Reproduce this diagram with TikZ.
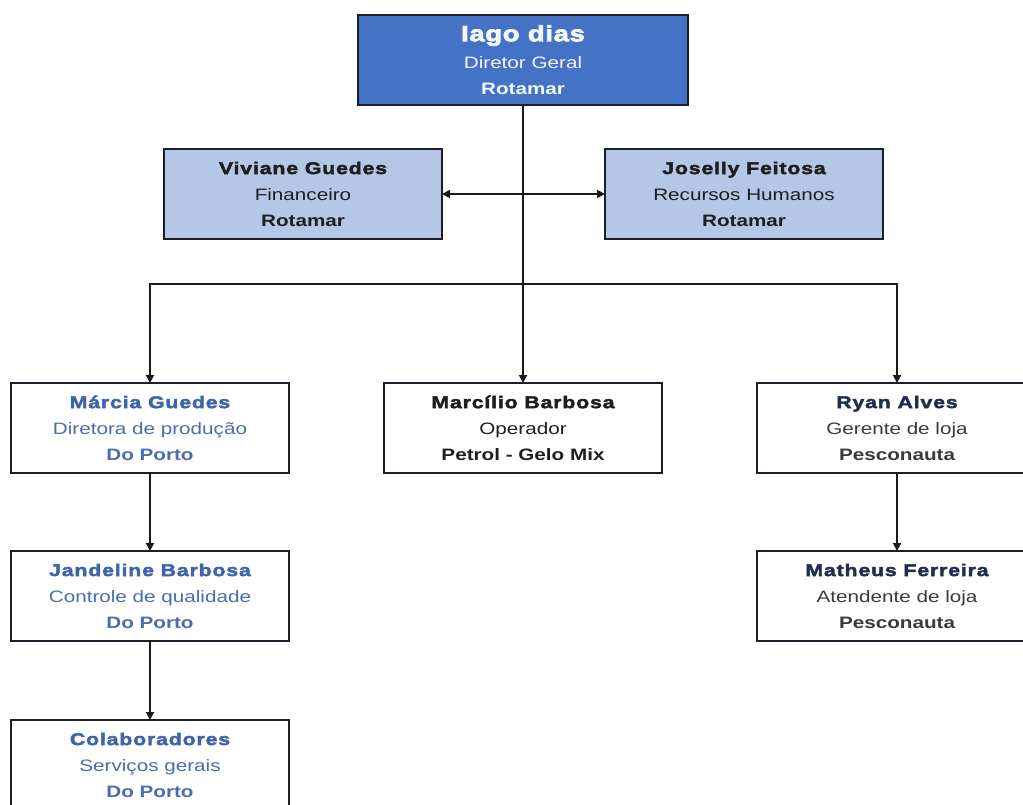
\documentclass[tikz,border=0pt]{standalone}
\usepackage{fontspec}
\setmainfont{Liberation Sans}[FakeStretch=1.25]
\newfontfamily\namef{Liberation Sans}[FakeStretch=1.25,LetterSpace=5,BoldFeatures={FakeBold=2.5}]
\newfontfamily\topf{Liberation Sans}[FakeStretch=1.25,LetterSpace=3,BoldFeatures={FakeBold=3.5}]
\usetikzlibrary{arrows.meta}
\definecolor{topfill}{HTML}{4472C4}
\definecolor{lightfill}{HTML}{B4C7E7}
\definecolor{bordc}{HTML}{1E1E2A}
\definecolor{linec}{HTML}{1A1A1A}
\definecolor{toptext}{HTML}{F2F6FD}
\definecolor{bluename}{HTML}{3F64AC}
\definecolor{bluetext}{HTML}{4B6DAE}
\definecolor{navy}{HTML}{1F2E4D}
\definecolor{graytext}{HTML}{3A3A3A}
\definecolor{darktext}{HTML}{1E1E1E}
\begin{document}
\begin{tikzpicture}[x=0.75pt,y=-0.75pt,
  box/.style={draw=bordc, line width=1.4pt, minimum width=208.5pt, minimum height=67.5pt,
    inner sep=0pt, outer sep=0pt, align=center, font=\fontsize{12.4}{19.5}\selectfont},
  conn/.style={line width=1.4pt, draw=linec},
  arr/.style={conn, -{Triangle[length=6pt,width=6pt]}}]
\clip (0,0) rectangle (1023,805);
\fill[white] (0,0) rectangle (1023,805);
% top
\node[box, fill=topfill, minimum width=247.5pt, text=toptext] (iago) at (523,60)
  {{\topf\bfseries\fontsize{16.5}{21}\selectfont Iago dias}\\[1pt] Diretor Geral\\ {\bfseries Rotamar}};
\node[box, fill=lightfill, text=darktext] (viv) at (303,194)
  {{\namef\bfseries\fontsize{12.75}{19.5}\selectfont Viviane Guedes}\\ Financeiro\\ {\bfseries Rotamar}};
\node[box, fill=lightfill, text=darktext] (jos) at (744,194)
  {{\namef\bfseries\fontsize{12.75}{19.5}\selectfont Joselly Feitosa}\\ Recursos Humanos\\ {\bfseries Rotamar}};
% second level
\node[box, text=bluetext] (marcia) at (150,428)
  {{\namef\bfseries\fontsize{12.75}{19.5}\selectfont\color{bluename} Márcia Guedes}\\ Diretora de produção\\ {\bfseries Do Porto}};
\node[box, text=darktext] (marcilio) at (523,428)
  {{\namef\bfseries\fontsize{12.75}{19.5}\selectfont Marcílio Barbosa}\\ Operador\\ {\bfseries Petrol - Gelo Mix}};
\node[box, minimum width=210pt, text=graytext] (ryan) at (897,428)
  {{\namef\bfseries\fontsize{12.75}{19.5}\selectfont\color{navy} Ryan Alves}\\ Gerente de loja\\ {\bfseries Pesconauta}};
% third level
\node[box, text=bluetext] (jand) at (150,596)
  {{\namef\bfseries\fontsize{12.75}{19.5}\selectfont\color{bluename} Jandeline Barbosa}\\ Controle de qualidade\\ {\bfseries Do Porto}};
\node[box, minimum width=210pt, text=graytext] (math) at (897,596)
  {{\namef\bfseries\fontsize{12.75}{19.5}\selectfont\color{navy} Matheus Ferreira}\\ Atendente de loja\\ {\bfseries Pesconauta}};
\node[box, text=bluetext] (colab) at (150,765)
  {{\namef\bfseries\fontsize{12.75}{19.5}\selectfont\color{bluename} Colaboradores}\\ Serviços gerais\\ {\bfseries Do Porto}};
% connectors
\coordinate (j) at (523,284);
\draw[conn] (iago.south) -- (j);
\draw[arr] (j) -- (marcilio.north);
\draw[arr] (j) -| (marcia.north);
\draw[arr] (j) -| (ryan.north);
\draw[conn,{Triangle[length=6pt,width=6pt]}-{Triangle[length=6pt,width=6pt]}] (viv.east) -- (jos.west);
\draw[arr] (marcia.south) -- (jand.north);
\draw[arr] (jand.south) -- (colab.north);
\draw[arr] (ryan.south) -- (math.north);
\end{tikzpicture}
\end{document}
